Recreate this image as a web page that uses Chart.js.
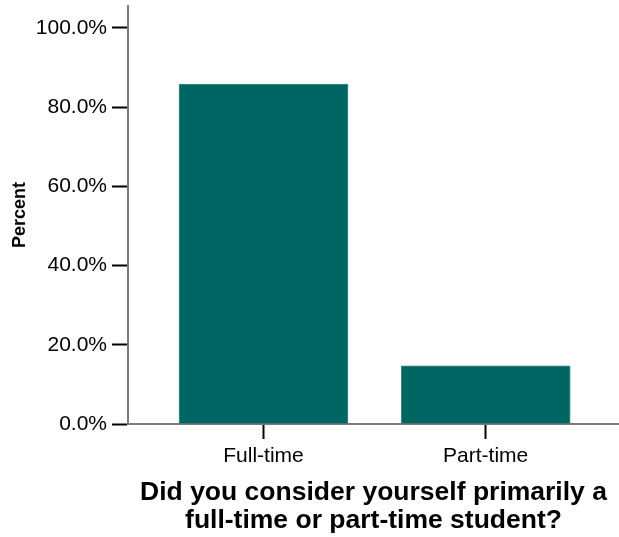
<!DOCTYPE html>
<html lang="en">
<head>
    <meta charset="UTF-8">
    <title>Full-time or part-time student</title>
    <script src="https://cdn.jsdelivr.net/npm/chart.js"></script>
    <style>
        body {
            margin: 0;
            background: #ffffff;
        }
        #chart {
            display: block;
        }
    </style>
</head>
<body>
    <canvas id="chart" width="619" height="537"></canvas>

    <script>
        // data
        const categories = ['Full-time', 'Part-time'];
        const percents = [85.8, 14.7];
        const yTicks = [0, 20, 40, 60, 80, 100];

        const barColor = '#006663';
        const axisGray = '#7a7a7a';
        const fontFamily = 'Arial, "Liberation Sans", Helvetica, sans-serif';

        // categories sit at x = 1, 2 on a linear scale so the axis line can run past them
        const points = categories.map((c, i) => ({ x: i + 1, y: percents[i] }));

        new Chart(document.getElementById('chart'), {
            type: 'bar',
            data: {
                datasets: [{
                    data: points,
                    backgroundColor: barColor,
                    borderColor: '#3f8e8a',
                    borderWidth: 1,
                    barThickness: 169
                }]
            },
            options: {
                responsive: false,
                animation: false,
                layout: { padding: { top: 6, right: 0, left: 0, bottom: 0 } },
                plugins: {
                    legend: { display: false },
                    tooltip: { enabled: false }
                },
                scales: {
                    x: {
                        type: 'linear',
                        offset: false,
                        min: 0.39,
                        max: 2.6,
                        afterBuildTicks: (scale) => {
                            scale.ticks = categories.map((c, i) => ({ value: i + 1 }));
                        },
                        afterFit: (scale) => {
                            scale.height = 113;
                            scale.paddingLeft = 0;
                            scale.paddingRight = 0;
                        },
                        grid: {
                            offset: false,
                            drawOnChartArea: false,
                            drawTicks: true,
                            tickLength: 15,
                            tickColor: '#000',
                            tickWidth: 2
                        },
                        border: { color: axisGray, width: 2 },
                        ticks: {
                            color: '#000',
                            padding: 5,
                            maxRotation: 0,
                            autoSkip: false,
                            font: { family: fontFamily, size: 21 },
                            callback: (v) => categories[v - 1]
                        },
                        title: {
                            display: true,
                            text: ['Did you consider yourself primarily a', 'full-time or part-time student?'],
                            color: '#000',
                            padding: { top: 0, bottom: 2 },
                            font: { family: fontFamily, size: 26.5, weight: 'bold', lineHeight: 1.06 }
                        }
                    },
                    y: {
                        min: 0,
                        max: 105.5,
                        afterBuildTicks: (scale) => {
                            scale.ticks = yTicks.map(v => ({ value: v }));
                        },
                        afterFit: (scale) => {
                            scale.width = 128;
                            scale.paddingTop = 0;
                            scale.paddingBottom = 0;
                        },
                        grid: {
                            drawOnChartArea: false,
                            drawTicks: true,
                            tickLength: 16,
                            tickColor: '#000',
                            tickWidth: 2
                        },
                        border: { color: axisGray, width: 2 },
                        ticks: {
                            color: '#000',
                            padding: 5,
                            font: { family: fontFamily, size: 21 },
                            callback: (v) => v.toFixed(1) + '%'
                        },
                        title: {
                            display: true,
                            text: 'Percent',
                            color: '#000',
                            padding: { top: 9, bottom: 0 },
                            font: { family: fontFamily, size: 18, weight: 'bold' }
                        }
                    }
                }
            }
        });
    </script>
</body>
</html>
